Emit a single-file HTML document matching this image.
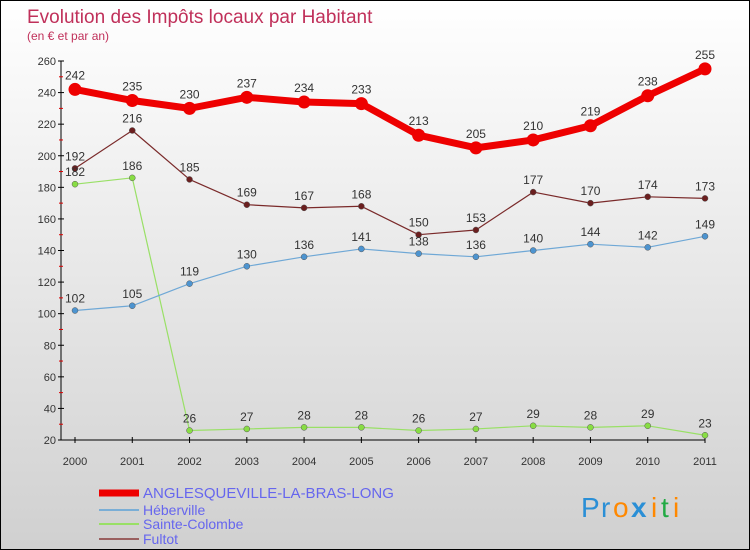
<!DOCTYPE html>
<html><head><meta charset="utf-8"><style>
body{margin:0}
#c{width:748px;height:548px;border:1px solid #000;background:linear-gradient(#fff,#d0d0d0);position:relative;font-family:"Liberation Sans",sans-serif;overflow:hidden}
</style></head><body>
<div id="c">
<svg id="s" width="748" height="548"></svg>
</div>
<script>
const years=["2000","2001","2002","2003","2004","2005","2006","2007","2008","2009","2010","2011"];
const yTicks=[20,40,60,80,100,120,140,160,180,200,220,240,260];
const anglesqueville=[242,235,230,237,234,233,213,205,210,219,238,255];
const heberville=[102,105,119,130,136,141,138,136,140,144,142,149];
const sainteColombe=[182,186,26,27,28,28,26,27,29,28,29,23];
const fultot=[192,216,185,169,167,168,150,153,177,170,174,173];
const series=[
 {name:"fultot",vals:fultot,color:"#7a2a2a",w:1.2,r:3,fill:"#6b1f1f"},
 {name:"sainte-colombe",vals:sainteColombe,color:"#99e066",w:1.2,r:3,fill:"#88dd44"},
 {name:"heberville",vals:heberville,color:"#6fa8d6",w:1.2,r:3,fill:"#4d94d0"},
 {name:"anglesqueville",vals:anglesqueville,color:"#ee0000",w:7,r:6.5,fill:"#ee0000"}
];
const NS="http://www.w3.org/2000/svg";
const svg=document.getElementById('s');
const X=i=>74+i*(630/11);
const Y=v=>439-(v-20)*(379/240);
function el(t,a,p){const e=document.createElementNS(NS,t);for(const k in a)e.setAttribute(k,a[k]);(p||svg).appendChild(e);return e;}
function tx(x,y,s,a){const e=el('text',Object.assign({x:x,y:y},a));e.textContent=s;return e;}
let t=tx(26,22,"Evolution des Impôts locaux par Habitant",{fill:"#c0305a","font-size":19});

t=tx(26,39,"(en € et par an)",{fill:"#c0305a","font-size":12});

// axes
let a=el('line',{x1:60,y1:Y(260),x2:60,y2:439,stroke:"#000"});

a=el('line',{x1:60,y1:439,x2:X(11),y2:439,stroke:"#000"});

yTicks.forEach(v=>{
 el('line',{x1:57,y1:Y(v),x2:63,y2:Y(v),stroke:"#000"});
 if(v<260)el('line',{x1:58,y1:Y(v+10),x2:62,y2:Y(v+10),stroke:"#d00"});
 const l=tx(55,Y(v)+4,String(v),{"text-anchor":"end","font-size":11,fill:"#333"});
 
});
years.forEach((y,i)=>{
 el('line',{x1:X(i),y1:436,x2:X(i),y2:442,stroke:"#000"});
 const l=tx(X(i),464,y,{"text-anchor":"middle","font-size":11,fill:"#333"});
 
});
series.forEach(s=>{
 const g=el('g',{});
 
 el('polyline',{points:s.vals.map((v,i)=>X(i)+","+Y(v)).join(" "),fill:"none",stroke:s.color,"stroke-width":s.w,"stroke-linejoin":"round"},g);
 s.vals.forEach((v,i)=>{
  const c=el('circle',{cx:X(i),cy:Y(v),r:s.r,fill:s.fill,stroke:s.w>2?"none":"#555","stroke-width":0.5},g);
  
  const l=tx(X(i),Y(v)-(s.w>2?10:8),String(v),{"text-anchor":"middle","font-size":12,fill:"#333"},g);
  
 });
});
// legend
const leg=[["ANGLESQUEVILLE-LA-BRAS-LONG","#ee0000",7,497,15],["Héberville","#7aaed6",2,514,14],["Sainte-Colombe","#99e066",2,528,14],["Fultot","#9a6060",2,543,14]];
leg.forEach(l=>{
 const g=el('g',{});
 el('line',{x1:98,y1:l[3]-5,x2:138,y2:l[3]-5,stroke:l[1],"stroke-width":l[2]},g);
 tx(142,l[3],l[0],{fill:"#6666ee","font-size":l[4]},g);
});
const lg=el('g',{});
[["P","#2a8fd6",580],["r","#2a8fd6",600],["o","#ff8800",612],["x","#2a8fd6",630],["i","#ff8800",650],["t","#22aa44",660],["i","#ff8800",672]].forEach(c=>tx(c[2],516,c[0],{fill:c[1],"font-size":28,"font-weight":c[0]=="x"?"bold":"normal"},lg));
</script>
</body></html>
